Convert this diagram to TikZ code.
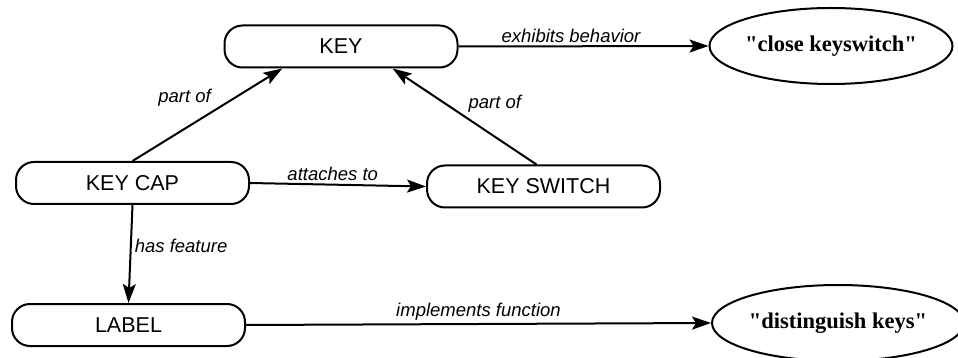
\documentclass[tikz,border=0pt]{standalone}
\usepackage{fontspec}
\setmainfont{Liberation Serif}
\setsansfont{Liberation Sans}
\usetikzlibrary{shapes.geometric,arrows.meta,calc}

\tikzset{
  concept/.style={draw, line width=2pt, rounded corners=18pt,
    minimum width=233pt, minimum height=42pt, inner sep=0pt,
    font=\sffamily\fontsize{21.5}{21.5}\selectfont},
  valuenode/.style={draw, ellipse, line width=2pt, inner sep=0pt,
    minimum width=238pt, minimum height=76pt,
    font=\rmfamily\bfseries\fontsize{22.5}{22.5}\selectfont},
  rel/.style={line width=2pt, -{Stealth[length=19pt,width=13pt,inset=4pt]}},
  rellabel/.style={font=\sffamily\itshape\fontsize{18.5}{18.5}\selectfont, inner sep=3pt}
}

\begin{document}
\begin{tikzpicture}[x=1pt,y=-1pt]
  \useasboundingbox (0,0) rectangle (958,358);

  % concepts
  \node[concept] (key)    at (341,46.5)  {KEY};
  \node[concept] (keycap) at (132.5,183) {KEY CAP};
  \node[concept] (switch) at (543.5,186.5) {KEY SWITCH};
  \node[concept] (label)  at (128.5,325) {LABEL};

  % behaviour / function values
  \node[valuenode] (close) at (831,46) {\textquotedbl close keyswitch\textquotedbl};
  \node[valuenode, minimum width=242pt] (distinguish) at (838,323) {\textquotedbl distinguish keys\textquotedbl};

  % relations
  \draw[rel] (key.east) -- node[rellabel, above, pos=0.45] {exhibits behavior} (close.west);
  \draw[rel] (keycap.north) -- node[rellabel, above left, pos=0.55] {part of}
    ($(key.south west)!0.25!(key.south east)$);
  \draw[rel] ($(switch.north west)!0.47!(switch.north east)$) -- node[rellabel, above right, pos=0.5] {part of}
    ($(key.south west)!0.72!(key.south east)$);
  \draw[rel] (keycap.east) -- node[rellabel, above, pos=0.47] {attaches to} (switch.west);
  \draw[rel] (keycap.south) -- node[rellabel, right, pos=0.42] {has feature} (label.north);
  \draw[rel] (label.east) -- node[rellabel, above] {implements function} (distinguish.west);
\end{tikzpicture}
\end{document}
